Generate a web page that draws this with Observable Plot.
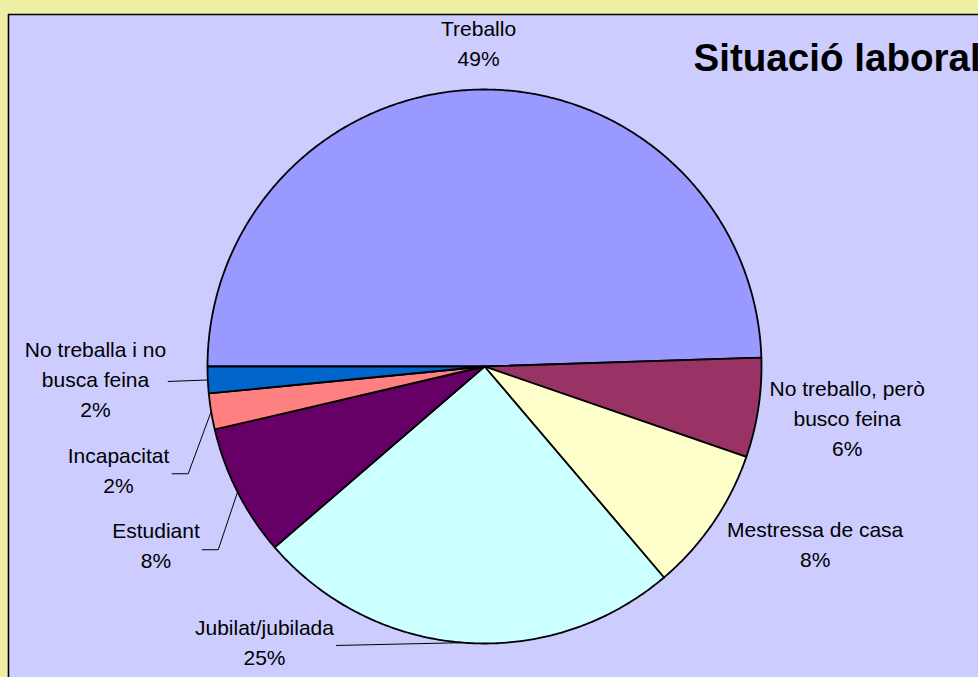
<!DOCTYPE html>
<html><head><meta charset="utf-8">
<script src="https://cdn.jsdelivr.net/npm/d3@7"></script>
<script src="https://cdn.jsdelivr.net/npm/@observablehq/plot@0.6"></script>
<style>html,body{margin:0;padding:0;overflow:hidden;background:#EEEEA4;}</style>
</head><body><div id="chart"></div>
<script>
// ---- data ----
const categories = ["Treballo", "No treballo, però\nbusco feina", "Mestressa de casa", "Jubilat/jubilada", "Estudiant", "Incapacitat", "No treballa i no\nbusca feina"];
const values = [49.49, 5.8, 8.49, 24.9, 7.67, 2.1, 1.55];
const colors = ["#9999FF", "#993366", "#FFFFCC", "#CCFFFF", "#660066", "#FF8080", "#0066CC"];
const title = "Situació laboral";

// ---- layout ----
const W = 978, H = 677, mL = 8, mT = 14, cx = 484, cy = 366, R = 277;
const labelOffsets = [[-1.5,-24],[88.8,47.6],[101.9,44.5],[-198.65,22.8],[-81.55,76.4],[-92.7,81.2],[-112.33,37.2]];
const leaderOffsets = [null, null, null, [[-126.65,2.8]], [[-19.35,57.7],[-35.35,57.7]], [[-23,62.2],[-39,62.2]], [[-39.63,1.5]]];

const arcs = d3.pie().sort(null).startAngle(-Math.PI/2).endAngle(1.5*Math.PI)(values);
const pt = a => [Math.sin(a), -Math.cos(a)];

const slicePts = [];
arcs.forEach((a, i) => {
  slicePts.push({i, x: 0, y: 0});
  const n = Math.max(2, Math.ceil((a.endAngle - a.startAngle) / (Math.PI / 360)));
  for (let k = 0; k <= n; k++) {
    const t = a.startAngle + (a.endAngle - a.startAngle) * k / n;
    const [x, y] = pt(t);
    slicePts.push({i, x, y});
  }
  slicePts.push({i, x: 0, y: 0});
});

const labels = arcs.map((a, i) => {
  const [ex, ey] = pt((a.startAngle + a.endAngle) / 2);
  const [ox, oy] = labelOffsets[i];
  return {x: ex + ox / R, y: ey + oy / R, text: `${categories[i]}\n${Math.round(values[i])}%`};
});

const leaderPts = [];
arcs.forEach((a, i) => {
  if (!leaderOffsets[i]) return;
  const [ex, ey] = pt((a.startAngle + a.endAngle) / 2);
  leaderPts.push({i, x: ex, y: ey});
  leaderOffsets[i].forEach(([ox, oy]) => leaderPts.push({i, x: ex + ox / R, y: ey + oy / R}));
});

const xMin = (mL - cx) / R, yMin = (mT - cy) / R;

const chart = Plot.plot({
  width: W, height: H,
  marginLeft: mL, marginTop: mT, marginRight: 0, marginBottom: 0,
  style: {fontFamily: "'Liberation Sans', Arial, sans-serif", background: "#EEEEA4", overflow: "hidden"},
  x: {domain: [xMin, (W - cx) / R], range: [mL, W], axis: null},
  y: {domain: [yMin, (H - cy) / R], range: [mT, H], axis: null},
  marks: [
    Plot.frame({fill: "#CCCCFF", stroke: null}),
    Plot.ruleX([xMin], {stroke: "black", strokeWidth: 1.6}),
    Plot.ruleY([yMin], {stroke: "black", strokeWidth: 1.6}),
    Plot.line(slicePts, {x: "x", y: "y", z: "i", fill: d => colors[d.i], stroke: "black", strokeWidth: 1.8, strokeLinejoin: "round", curve: "linear"}),
    Plot.line(leaderPts, {x: "x", y: "y", z: "i", stroke: "black", strokeWidth: 1}),
    Plot.text(labels, {x: "x", y: "y", text: "text", textAnchor: "middle", lineAnchor: "bottom", lineHeight: 30/21, fontSize: 21, fill: "black"}),
    Plot.text([title], {frameAnchor: "top-left", dx: 685, dy: 56, textAnchor: "start", lineAnchor: "bottom", fontSize: 38.6, fontWeight: "bold", fill: "black"})
  ]
});
document.getElementById("chart").appendChild(chart);
</script>
</body></html>
